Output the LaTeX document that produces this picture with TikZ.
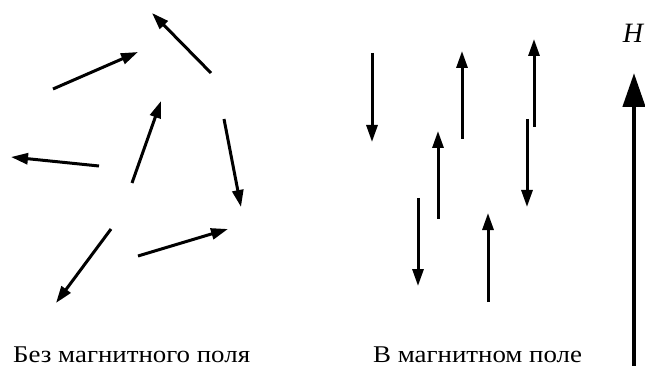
\documentclass[tikz,border=0pt]{standalone}
\usepackage{fontspec}
\setmainfont{Liberation Serif}
\newfontfamily\capfont[FakeStretch=1.12]{Liberation Serif}
\usetikzlibrary{arrows.meta}
\begin{document}
\begin{tikzpicture}[x=1pt,y=-1pt,
  spin/.style={line width=3pt,-{Triangle[length=17pt,width=11pt]}},
  field/.style={line width=4.5pt,-{Triangle[length=34pt,width=22pt]}},
  caption/.style={font=\capfont\fontsize{24}{28}\selectfont,anchor=base west,inner sep=0pt}]
\useasboundingbox (0,0) rectangle (645,366);
% without field
\draw[spin] (211,73) -- (152,13);
\draw[spin] (53,89) -- (138,52);
\draw[spin] (132,183) -- (161,101);
\draw[spin] (99,166) -- (11,157);
\draw[spin] (224,119) -- (241,207);
\draw[spin] (111,229) -- (56,303);
\draw[spin] (138,256) -- (228,229);
% in field
\draw[spin] (372,53) -- (372,142);
\draw[spin] (462,139) -- (462,51);
\draw[spin] (534,127) -- (534,39);
\draw[spin] (438,219) -- (438,131);
\draw[spin] (527,119) -- (527,207);
\draw[spin] (418,198) -- (418,286);
\draw[spin] (488,302) -- (488,213);
% field arrow
\draw[field] (634,366) -- (634,73);
\node[font=\fontsize{28}{32}\selectfont\itshape] (H) at (633,33) {H};
\node[caption] (c1) at (13,362) {Без магнитного поля};
\node[caption] (c2) at (373,362) {В магнитном поле};
\end{tikzpicture}
\end{document}
